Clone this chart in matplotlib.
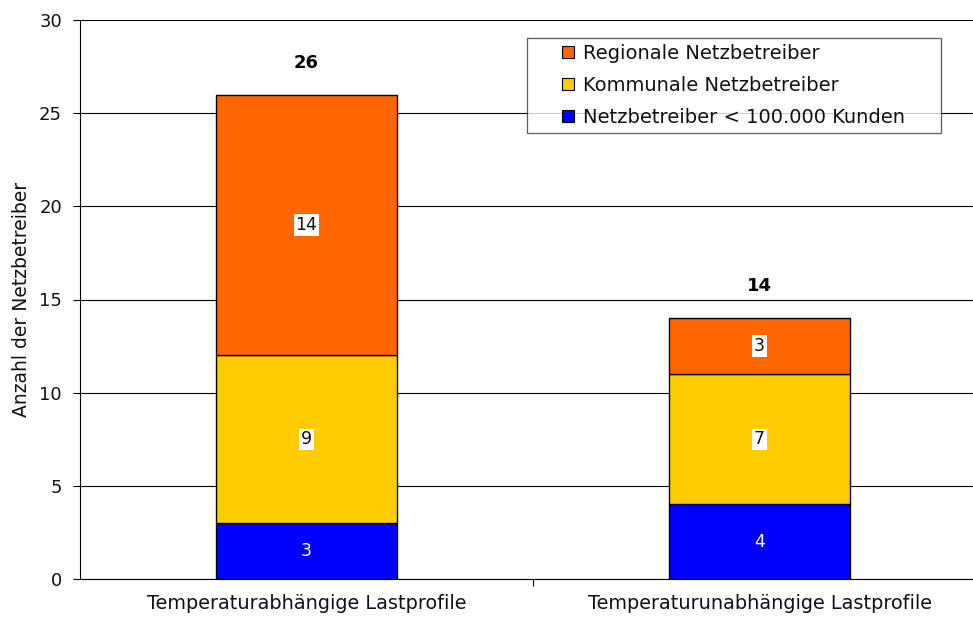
import matplotlib
matplotlib.use("Agg")
import matplotlib.pyplot as plt
from matplotlib.lines import Line2D
import numpy as np

categories = ["Temperaturabhängige Lastprofile", "Temperaturunabhängige Lastprofile"]
series_names = ["Netzbetreiber < 100.000 Kunden", "Kommunale Netzbetreiber", "Regionale Netzbetreiber"]
small = [3, 4]
kommunal = [9, 7]
regional = [14, 3]
totals = [26, 14]
colors = ["#0000FF", "#FFCC00", "#FF6600"]

plt.rcParams["font.family"] = ["DejaVu Sans"]

W, H = 973, 619
fig = plt.figure(figsize=(W / 100, H / 100), dpi=100)
ax_x0, ax_x1, ax_y0, ax_y1 = 80, 986, 20, 579
ax = fig.add_axes([ax_x0 / W, 1 - ax_y1 / H, (ax_x1 - ax_x0) / W, (ax_y1 - ax_y0) / H])

x = np.arange(len(categories))
width = 0.4
bottom = np.zeros(len(categories))
for vals, name, col in zip([small, kommunal, regional], series_names, colors):
    ax.bar(x, vals, width, bottom=bottom, color=col, edgecolor="black",
           linewidth=1.0, label=name, zorder=3)
    for xi, v, b in zip(x, vals, bottom):
        if col == "#0000FF":
            ax.text(xi, b + v / 2, str(v), ha="center", va="center",
                    color="white", fontsize=12.5, zorder=4)
        else:
            ax.text(xi, b + v / 2, str(v), ha="center", va="center",
                    color="#111111", fontsize=12.5, zorder=4,
                    bbox=dict(facecolor="white", edgecolor="none", pad=1.2))
    bottom = bottom + np.array(vals)

for xi, t in zip(x, totals):
    ax.annotate(str(t), (xi, t), xytext=(0, 23), textcoords="offset points",
                ha="center", va="center", fontsize=13, fontweight="bold")

ax.set_xlim(-0.5, 1.5)
ax.set_ylim(0, 30)
ax.set_yticks(range(0, 31, 5))
ax.yaxis.grid(True, color="black", linewidth=0.8, zorder=0)
ax.set_axisbelow(True)
ax.set_xticks(x)
ax.set_xticklabels(categories, fontsize=13.9, color="#111111")
ax.tick_params(axis="x", length=0, pad=11)
ax.set_xticks([0.5], minor=True)
ax.tick_params(axis="x", which="minor", length=5, width=0.8, direction="out")
ax.tick_params(axis="y", length=5, width=0.8, direction="out", labelsize=13,
               pad=8, labelcolor="#111111")
for side in ["top", "right"]:
    ax.spines[side].set_visible(False)
ax.spines["left"].set_linewidth(0.8)
ax.spines["bottom"].set_linewidth(0.8)
ax.set_ylabel("Anzahl der Netzbetreiber", fontsize=13.5, labelpad=6, color="#111111")

# legend: series listed top to bottom in stacking order
leg_handles = [Line2D([], [], linestyle="none", marker="s", markersize=9,
                      markerfacecolor=c, markeredgecolor="black", markeredgewidth=0.8)
               for c in colors[::-1]]
lx0, lx1, ly0, ly1 = 527, 941, 38, 133
aw, ah = ax_x1 - ax_x0, ax_y1 - ax_y0
leg = ax.legend(leg_handles, series_names[::-1], loc="upper left",
                bbox_to_anchor=((lx0 - ax_x0) / aw, 1 - (ly1 - ax_y0) / ah,
                                (lx1 - lx0) / aw, (ly1 - ly0) / ah),
                mode="expand", fontsize=14, frameon=True, fancybox=False,
                edgecolor="#333333", handlelength=3.6, handletextpad=-1.0,
                borderpad=0.3, labelspacing=0.68, borderaxespad=0)
leg.get_frame().set_linewidth(0.9)
for t in leg.get_texts():
    t.set_color("#111111")

fig.savefig("out.png", dpi=100)
